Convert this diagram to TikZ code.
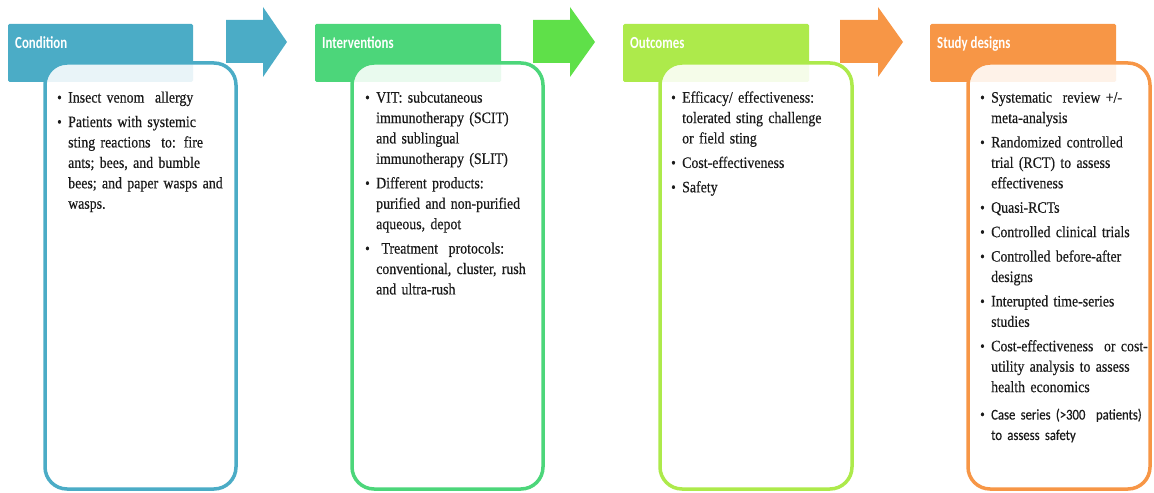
\documentclass[tikz,border=0pt]{standalone}
\usepackage{fontspec}
\setmainfont[FakeStretch=0.87,FakeBold=0.4]{Liberation Serif}
\newfontfamily\hdfont[FakeStretch=0.76]{Carlito}
\newfontfamily\calfont[FakeStretch=0.85,FakeBold=0.3]{Carlito}

\definecolor{condcol}{HTML}{4BACC6}
\definecolor{intvcol}{HTML}{4CD67A}
\definecolor{arrgreen}{HTML}{5FE049}
\definecolor{outccol}{HTML}{ADEA4B}
\definecolor{studcol}{HTML}{F79646}
\definecolor{bodytext}{HTML}{1A1A1A}

% one bulleted entry with a hanging indent
\newcommand\bitem[1]{\par\noindent\hangindent=11bp\hangafter=1\strut\makebox[11bp][l]{\raisebox{0.2bp}{\fontsize{15}{15}\selectfont\textbullet}}#1\par}

\tikzset{
  hdr/.style={fill=#1, rounded corners=1.5bp},
  panel/.style={draw=#1, line width=3.5bp, rounded corners=22bp, fill=white, fill opacity=0.88},
  blockarrow/.style={fill=#1},
  hdtext/.style={anchor=base west, inner sep=0pt, text=white,
    font=\hdfont\bfseries\fontsize{17}{19}\selectfont},
  items/.style={anchor=north west, inner sep=0pt, text width=180bp, align=left,
    text=bodytext, font=\fontsize{16}{20.5}\selectfont},
}

\begin{document}
\begin{tikzpicture}[x=1bp,y=-1bp]
\useasboundingbox (0,0) rectangle (1154,493);

% block arrows between the columns
\fill[blockarrow=condcol] (226,20) -- (263,20) -- (263,7) -- (287,42) -- (263,77) -- (263,63) -- (226,63) -- cycle;
\fill[blockarrow=arrgreen] (533,20) -- (570,20) -- (570,7) -- (595,42) -- (570,77) -- (570,63) -- (533,63) -- cycle;
\fill[blockarrow=studcol] (840,20) -- (878,20) -- (878,7) -- (903,42) -- (878,77) -- (878,63) -- (840,63) -- cycle;

% header bars
\fill[hdr=condcol] (8,24) rectangle (193,82);
\fill[hdr=intvcol] (315,24) rectangle (501,82);
\fill[hdr=outccol] (623,24) rectangle (809,82);
\fill[hdr=studcol] (930,24) rectangle (1116,82);

% content panels, laid over the header bars
\draw[panel=condcol] (45,63) rectangle (236,489);
\draw[panel=intvcol] (352,63) rectangle (543,489);
\draw[panel=outccol] (660,63) rectangle (852,489);
\draw[panel=studcol] (968,63) rectangle (1150,489);

% header titles
\node[hdtext] (condtitle) at (15,48.5) {Condition};
\node[hdtext] (intvtitle) at (322,48.5) {Interventions};
\node[hdtext] (outctitle) at (630,48.5) {Outcomes};
\node[hdtext] (studtitle) at (937,48.5) {Study designs};

% bullet lists
\node[items] (condlist) at (57,78) {\setlength{\parskip}{4bp}%
\bitem{Insect venom\ \ allergy}
\bitem{Patients with systemic\newline sting reactions\ \ to: fire\newline ants; bees, and bumble\newline bees; and paper wasps and\newline wasps.}};

\node[items] (intvlist) at (365,78) {\setlength{\parskip}{4bp}%
\bitem{VIT: subcutaneous\newline immunotherapy (SCIT)\newline and sublingual\newline immunotherapy (SLIT)}
\bitem{Different products:\newline purified and non-purified\newline aqueous, depot}
\bitem{\ Treatment\ \ protocols:\newline conventional, cluster, rush\newline and ultra-rush}};

\node[items] (outclist) at (671,78) {\setlength{\parskip}{4bp}%
\bitem{Efficacy/ effectiveness:\newline tolerated sting challenge\newline or field sting}
\bitem{Cost-effectiveness}
\bitem{Safety}};

\node[items] (studlist) at (980,78) {\setlength{\parskip}{4bp}%
\bitem{Systematic\ \ review +/-\newline meta-analysis}
\bitem{Randomized controlled\newline trial (RCT) to assess\newline effectiveness}
\bitem{Quasi-RCTs}
\bitem{Controlled clinical trials}
\bitem{Controlled before-after\newline designs}
\bitem{Interupted time-series\newline studies}
\bitem{Cost-effectiveness\ \ or cost-\newline utility analysis to assess\newline health economics}
\vspace{3bp}%
\bitem{{\calfont\fontsize{15}{20.5}\selectfont Case series (>300\ \ patients)\newline to assess safety}}};
\end{tikzpicture}
\end{document}
